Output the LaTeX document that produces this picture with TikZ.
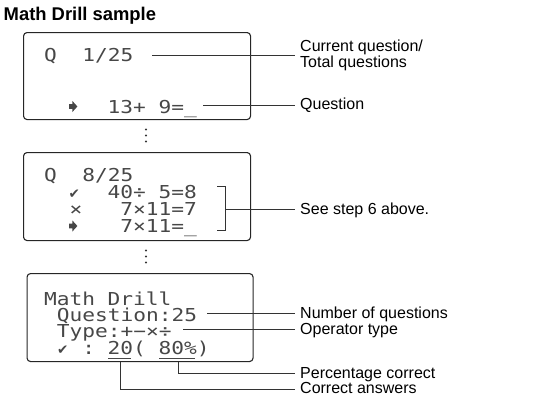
\documentclass[tikz,border=0pt]{standalone}
\usepackage{fontspec}
\setmainfont{Liberation Sans}
\newfontfamily\lcdfont[FakeStretch=1.19]{DejaVu Sans Mono}
\newfontfamily\dingfont{DejaVu Sans}

\tikzset{
  screen/.style={draw=black!85, line width=1.1pt, rounded corners=3.5pt, inner sep=0pt, anchor=north west},
  lcd/.style={font=\lcdfont\fontsize{17.8pt}{17.8pt}\selectfont, text=black!72, inner sep=0pt, anchor=base west},
  ding/.style={font=\dingfont\fontsize{13.5pt}{13.5pt}\selectfont, text=black!72, inner sep=0pt, anchor=base west},
  callout/.style={font=\fontsize{16pt}{17pt}\selectfont, inner sep=0pt, anchor=base west},
  leader/.style={draw=black!80, line width=0.7pt},
  vdot/.style={fill=black!80},
  cursor/.pic={\fill[black!72] (0,-2.4) -- (3.4,-2.4) -- (3.4,-5.5) -- (8.4,0) -- (3.4,5.5) -- (3.4,2.4) -- (0,2.4) -- cycle;}
}

\begin{document}
\begin{tikzpicture}[x=1pt, y=-1pt]
\useasboundingbox (0,0) rectangle (535,397);

% heading
\node[font=\bfseries\fontsize{18.4pt}{18.4pt}\selectfont, anchor=base west, inner sep=0pt] (title) at (3.5,20) {Math Drill sample};

% ---------- first screen: question 1 ----------
\node[screen, minimum width=227pt, minimum height=87pt] (scr1) at (23,32) {};
\node[lcd] (s1q) at (44,61.5) {Q};
\node[lcd] (s1n) at (82.1,61.5) {1/25};
\pic at (69,106.5) {cursor};
\node[lcd] (s1a) at (107.5,113) {13+};
\node[lcd] (s1b) at (158.3,113) {9=\_};

\node[callout] (lab1a) at (300,51) {Current question/};
\node[callout] (lab1b) at (300,67.5) {Total questions};
\node[callout] (lab2) at (300,109.5) {Question};
\coordinate (c1) at (152,55);
\coordinate (c2) at (203,105);
\draw[leader, shorten >=5pt] (c1) -- (c1 -| lab1a.west);
\draw[leader, shorten >=5pt] (c2) -- (c2 -| lab2.west);

% vertical ellipsis
\foreach \yy in {129.5,135.5,141.5} \fill[vdot] (146,\yy) circle (1.2);

% ---------- second screen: question 8 ----------
\node[screen, minimum width=227pt, minimum height=88pt] (scr2) at (23,152) {};
\node[lcd] (s2q) at (44,181) {Q};
\node[lcd] (s2n) at (82.1,181) {8/25};
\node[ding] (s2c) at (68.5,198) {✔};
\node[lcd] (s2a) at (107.5,198) {40÷};
\node[lcd] (s2b) at (158.3,198) {5=8};
\node[lcd] (s2x) at (69.4,215.5) {×};
\node[lcd] (s2d) at (120.2,215.5) {7×11=7};
\pic at (69,226) {cursor};
\node[lcd] (s2e) at (120.2,232.5) {7×11=\_};

% bracket over the answered lines
\coordinate (brt) at (217,186);
\coordinate (brb) at (217,230);
\coordinate (brm) at (225,209.5);
\draw[leader] (brt) -- ++(8,0) |- (brb);
\node[callout] (lab3) at (300,214) {See step 6 above.};
\draw[leader, shorten >=5pt] (brm) -- (brm -| lab3.west);

% vertical ellipsis
\foreach \yy in {250.5,256.5,262.5} \fill[vdot] (146,\yy) circle (1.2);

% ---------- third screen: results ----------
\node[screen, minimum width=226pt, minimum height=88pt] (scr3) at (26.5,273) {};
\node[lcd] (s3t) at (44,305) {Math};
\node[lcd] (s3u) at (107.5,305) {Drill};
\node[lcd] (s3q) at (56.7,321.3) {Question:25};
\node[lcd] (s3o) at (56.7,337.6) {Type:+−×÷};
\node[ding] (s3c) at (57,354) {✔};
\node[lcd] (s3k) at (82.1,354) {:};
\node[lcd] (s3r) at (107.5,354) {20(};
\node[lcd] (s3p) at (158.3,354) {80\%)};
\draw[black!72, line width=0.9pt] (108,358) -- (131,358);
\draw[black!72, line width=0.9pt] (159,358) -- (195,358);

\node[callout] (lab4) at (300,318.5) {Number of questions};
\node[callout] (lab5) at (300,334.3) {Operator type};
\node[callout] (lab6) at (300,378) {Percentage correct};
\node[callout] (lab7) at (300,393.6) {Correct answers};

\coordinate (c4) at (207,313);
\coordinate (c5) at (183,329.3);
\draw[leader, shorten >=5pt] (c4) -- (c4 -| lab4.west);
\draw[leader, shorten >=5pt] (c5) -- (c5 -| lab5.west);
\coordinate (c6) at (178,373.8);
\coordinate (c7) at (120,389.4);
\draw[leader, shorten >=5pt] (c6 |- scr3.south) -- (c6) -- (c6 -| lab6.west);
\draw[leader, shorten >=5pt] (c7 |- scr3.south) -- (c7) -- (c7 -| lab7.west);
\end{tikzpicture}
\end{document}
